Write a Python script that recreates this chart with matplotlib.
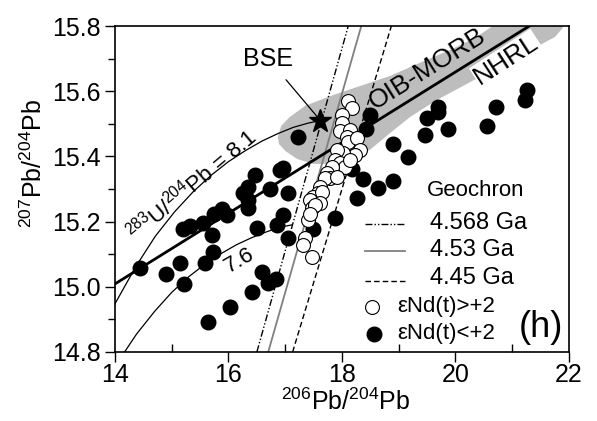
import matplotlib.pyplot as plt
from matplotlib.patches import Polygon
from matplotlib.ticker import FormatStrFormatter

plt.rcParams['font.family'] = ['Liberation Sans', 'DejaVu Sans']
plt.rcParams['mathtext.fontset'] = 'custom'
plt.rcParams['mathtext.rm'] = 'Liberation Sans'
plt.rcParams['mathtext.it'] = 'Liberation Sans:italic'
plt.rcParams['mathtext.bf'] = 'Liberation Sans:bold'
plt.rcParams['mathtext.default'] = 'regular'

# samples with eNd(t) > +2 (open circles)
hi_x = [18.11, 18.18, 18.00, 18.00, 17.96, 18.14, 18.09, 18.11, 18.26, 18.32,
        18.23, 18.02, 17.91, 17.88, 17.96, 18.05, 18.14, 17.82, 17.74, 17.79,
        17.70, 17.61, 17.58, 17.49, 17.65, 17.44, 17.61, 17.47, 17.40, 17.35,
        17.31, 17.47, 17.91, 17.52, 17.43]
hi_y = [15.57, 15.55, 15.527, 15.502, 15.478, 15.481, 15.459, 15.444, 15.456, 15.420,
        15.404, 15.410, 15.420, 15.389, 15.380, 15.367, 15.389, 15.367, 15.349, 15.334,
        15.334, 15.306, 15.288, 15.276, 15.291, 15.266, 15.257, 15.242, 15.205, 15.150,
        15.128, 15.091, 15.337, 15.252, 15.222]

# samples with eNd(t) < +2 (filled circles)
lo_x = [14.44, 14.90, 15.15, 15.22, 15.59, 15.73, 15.20, 15.32, 15.55, 15.71,
        15.74, 15.89, 15.97, 16.26, 16.34, 16.47, 16.34, 16.34, 16.73, 16.91,
        16.96, 17.05, 16.50, 16.96, 16.85, 17.05, 16.59, 16.41, 16.70, 16.84,
        16.03, 15.64, 17.22, 18.42, 18.49, 18.18, 18.37, 18.63, 18.26, 17.88,
        17.49, 18.90, 18.90, 19.16, 19.46, 19.50, 19.69, 19.69, 19.87, 20.56,
        20.71, 21.22, 21.26]
lo_y = [15.058, 15.039, 15.073, 15.009, 15.073, 15.107, 15.177, 15.187, 15.196, 15.159,
        15.223, 15.239, 15.220, 15.288, 15.306, 15.343, 15.266, 15.242, 15.300, 15.358,
        15.365, 15.288, 15.180, 15.220, 15.190, 15.150, 15.045, 14.984, 15.012, 15.024,
        14.938, 14.892, 15.460, 15.484, 15.527, 15.361, 15.331, 15.303, 15.272, 15.211,
        15.177, 15.438, 15.325, 15.398, 15.466, 15.518, 15.552, 15.536, 15.484, 15.493,
        15.552, 15.573, 15.604]

bse = (17.62, 15.51)

# Pb growth curves, 238U/204Pb = 8.1 and 7.6
mu81_x = [13.64, 14.01, 14.37, 14.71, 15.05, 15.38, 15.70, 16.00, 16.30, 16.59, 16.87, 17.14, 17.40, 17.62]
mu81_y = [14.815, 14.951, 15.063, 15.155, 15.230, 15.292, 15.343, 15.384, 15.418, 15.447, 15.470, 15.489, 15.502, 15.51]
mu76_x = [14.05, 14.38, 14.70, 15.00, 15.30, 15.59, 15.87, 16.14, 16.40, 16.66, 16.91, 17.12]
mu76_y = [14.769, 14.855, 14.925, 14.983, 15.031, 15.070, 15.102, 15.129, 15.150, 15.168, 15.183, 15.19]

# geochrons (x at 207Pb/204Pb = 14.8 and 15.8)
geo_y = [14.8, 15.8]
geo_4568 = [16.50, 18.11]
geo_453 = [16.70, 18.34]
geo_445 = [17.13, 18.87]

# NHRL
nhrl_x = [13.9, 21.30]
nhrl_y = [14.998, 15.800]

# OIB-MORB field outline
band_x = [16.87, 16.93, 17.08, 17.35, 17.79, 18.32, 18.85, 19.37, 19.90, 20.34,
          20.87, 21.84, 21.89, 21.75, 21.49, 21.14, 20.78, 20.26, 19.67, 19.20,
          18.85, 18.49, 18.14, 17.79, 17.49, 17.21, 17.00, 16.89]
band_y = [15.460, 15.494, 15.521, 15.555, 15.585, 15.616, 15.647, 15.687, 15.726, 15.763,
          15.825, 15.825, 15.794, 15.766, 15.742, 15.711, 15.677, 15.628, 15.573, 15.521,
          15.472, 15.420, 15.392, 15.377, 15.377, 15.392, 15.417, 15.438]

fig = plt.figure(figsize=(5.97, 4.21), dpi=100)
ax = fig.add_axes([0.1926, 0.1639, 0.7605, 0.7743])
ax.set_xlim(14, 22)
ax.set_ylim(14.8, 15.8)

ax.add_patch(Polygon(list(zip(band_x, band_y)), closed=True, fc='#bdbdbd', ec='none', zorder=1))

ax.plot(geo_4568, geo_y, color='k', lw=1.0, ls=(0, (5, 1.5, 1, 1.5, 1, 1.5)), zorder=2)
ax.plot(geo_453, geo_y, color='#808080', lw=1.3, zorder=2)
ax.plot(geo_445, geo_y, color='k', lw=1.0, ls=(0, (4, 2.2)), zorder=2)

ax.plot(mu81_x, mu81_y, color='k', lw=0.9, zorder=3)
ax.plot(mu76_x, mu76_y, color='k', lw=0.9, zorder=3)
ax.plot(nhrl_x, nhrl_y, color='k', lw=2.0, zorder=3)

ax.scatter(lo_x, lo_y, s=110, c='k', zorder=4)
ax.scatter(hi_x, hi_y, s=100, c='white', edgecolors='k', linewidths=0.8, zorder=5)
ax.plot(*bse, marker='*', ms=17, color='k', zorder=6)

ax.annotate('BSE', xy=bse, xytext=(16.70, 15.70), fontsize=18, ha='center', va='center',
            arrowprops=dict(arrowstyle='-', lw=0.9, color='k', shrinkA=6, shrinkB=3))
ax.text(19.50, 15.668, 'OIB-MORB', fontsize=19, rotation=32, ha='center', va='center',
        rotation_mode='anchor', zorder=3)
ax.text(20.90, 15.698, 'NHRL', fontsize=19, rotation=33, ha='center', va='center',
        rotation_mode='anchor', zorder=2,
        bbox=dict(fc='white', ec='none', pad=0.5))
ax.text(15.36, 15.312, r'$^{283}$U/$^{204}$Pb = 8.1', fontsize=16, rotation=40,
        ha='center', va='center', rotation_mode='anchor')
ax.text(16.20, 15.08, '7.6', fontsize=16, rotation=30, ha='center', va='center',
        rotation_mode='anchor')

# legend drawn by hand
T = ax.transAxes
ax.text(0.687, 0.495, 'Geochron', fontsize=16, ha='left', va='center', transform=T)
ax.plot([0.551, 0.639], [0.393, 0.393], color='k', lw=1.0,
        ls=(0, (5, 1.5, 1, 1.5, 1, 1.5)), transform=T)
ax.text(0.694, 0.396, '4.568 Ga', fontsize=17, ha='left', va='center', transform=T)
ax.plot([0.551, 0.639], [0.310, 0.310], color='#808080', lw=1.3, transform=T)
ax.text(0.694, 0.313, '4.53 Ga', fontsize=17, ha='left', va='center', transform=T)
ax.plot([0.551, 0.639], [0.218, 0.218], color='k', lw=1.0, ls=(0, (4, 2.2)), transform=T)
ax.text(0.694, 0.227, '4.45 Ga', fontsize=17, ha='left', va='center', transform=T)
ax.scatter([0.566], [0.138], s=100, c='white', edgecolors='k', linewidths=0.8, transform=T)
ax.text(0.621, 0.141, 'εNd(t)>+2', fontsize=16, ha='left', va='center', transform=T)
ax.scatter([0.570], [0.055], s=110, c='k', transform=T)
ax.text(0.621, 0.058, 'εNd(t)<+2', fontsize=16, ha='left', va='center', transform=T)
ax.text(0.987, 0.02, '(h)', fontsize=26, ha='right', va='bottom', transform=T)

ax.set_xticks([14, 16, 18, 20, 22])
ax.set_xticks([15, 17, 19, 21], minor=True)
ax.set_yticks([14.8, 15.0, 15.2, 15.4, 15.6, 15.8])
ax.set_yticks([14.9, 15.1, 15.3, 15.5, 15.7], minor=True)
ax.yaxis.set_major_formatter(FormatStrFormatter('%.1f'))
ax.tick_params(axis='x', which='major', direction='out', length=7, width=1, labelsize=18, pad=1)
ax.tick_params(axis='x', which='minor', direction='in', length=5.5, width=1)
ax.tick_params(axis='y', which='major', direction='out', length=7, width=1, labelsize=18, pad=3)
ax.tick_params(axis='y', which='minor', direction='out', length=5, width=1)
for s in ax.spines.values():
    s.set_linewidth(1.2)

ax.set_xlabel(r'$^{206}$Pb/$^{204}$Pb', fontsize=18)
ax.set_ylabel(r'$^{207}$Pb/$^{204}$Pb', fontsize=18)
ax.xaxis.set_label_coords(0.507, -0.113)
ax.yaxis.set_label_coords(-0.15, 0.58)

fig.savefig('out.png', dpi=100)
